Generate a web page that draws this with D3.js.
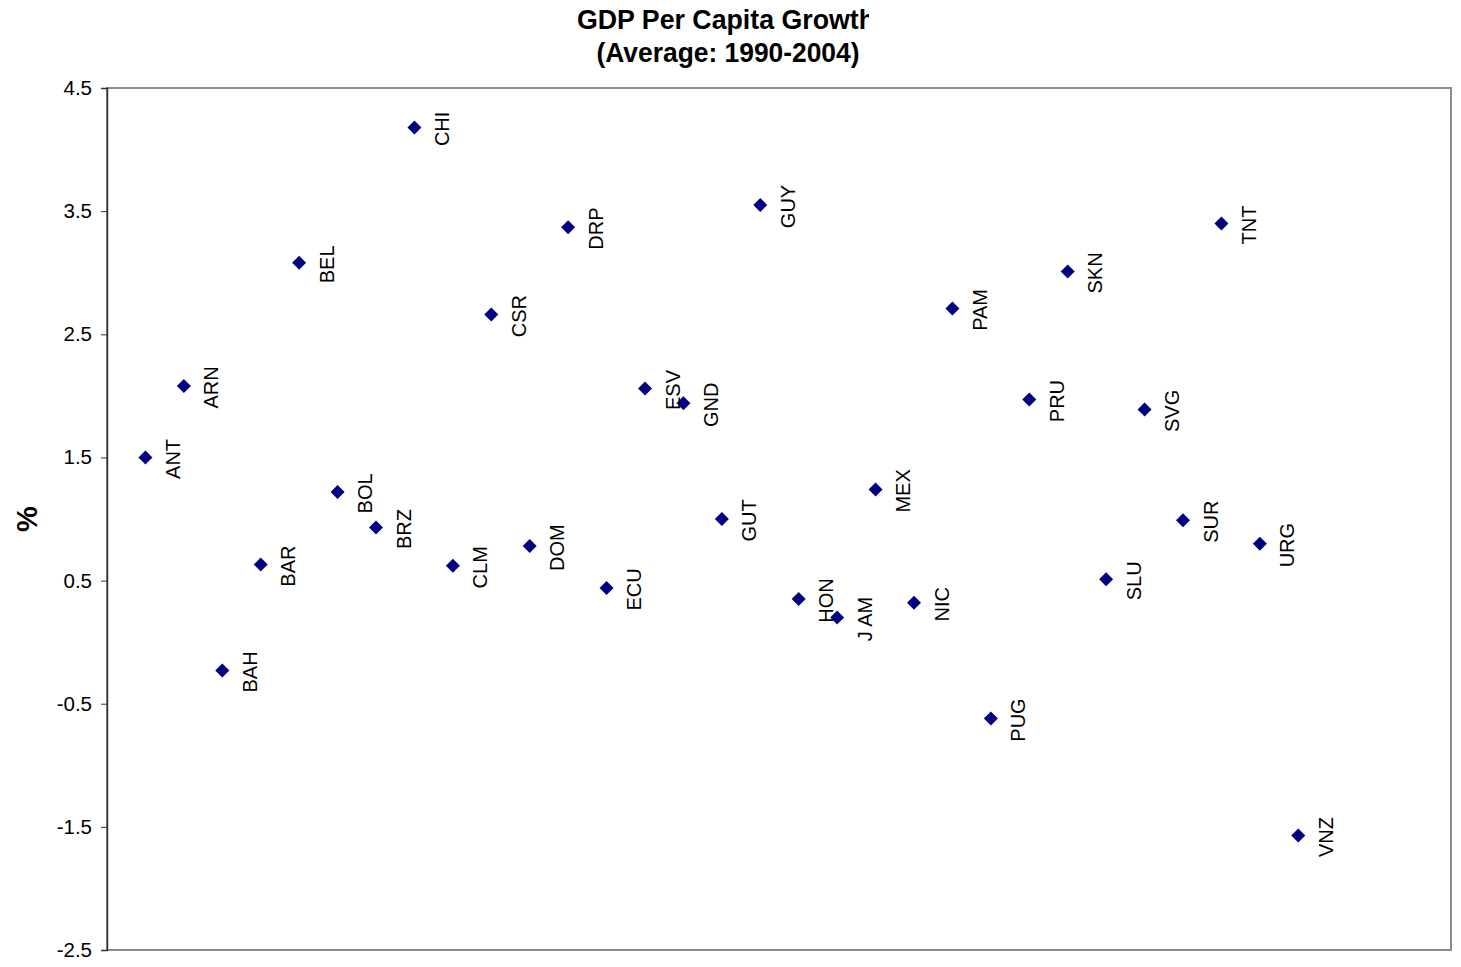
<!DOCTYPE html>
<html><head><meta charset="utf-8">
<script src="https://cdn.jsdelivr.net/npm/d3@7"></script>
<style>html,body{margin:0;padding:0;background:#fff;}</style>
</head><body>
<script>
const countries = ["ANT","ARN","BAH","BAR","BEL","BOL","BRZ","CHI","CLM","CSR","DOM","DRP","ECU","ESV","GND","GUT","GUY","HON","J AM","MEX","NIC","PAM","PUG","PRU","SKN","SLU","SVG","SUR","TNT","URG","VNZ"];
const growth = [1.50,2.08,-0.23,0.63,3.08,1.22,0.93,4.18,0.62,2.66,0.78,3.37,0.44,2.06,1.94,1.00,3.55,0.35,0.20,1.24,0.32,2.71,-0.62,1.97,3.01,0.51,1.89,0.99,3.40,0.80,-1.57];
const yTicks = [-2.5,-1.5,-0.5,0.5,1.5,2.5,3.5,4.5];
const titleLines = ["GDP Per Capita Growth","(Average: 1990-2004)"];
const yLabel = "%";

const W = 1461, H = 957;
const svg = d3.select("body").append("svg").attr("width", W).attr("height", H).style("display","block");
const m = {left:107, right:1452, top:88, bottom:950};
const x = d3.scaleLinear().domain([0,35]).range([m.left, m.right]);
const y = d3.scaleLinear().domain([-2.5,4.5]).range([m.bottom, m.top]);

// frame
svg.append("rect").attr("x", m.left).attr("y", m.top).attr("width", m.right-m.left-1).attr("height", m.bottom-m.top)
  .attr("fill","none").attr("stroke","#8c8c8c").attr("stroke-width",2);

// y axis
const ya = svg.append("g").attr("transform",`translate(${m.left},0)`)
  .call(d3.axisLeft(y).tickValues(yTicks).tickSize(6).tickPadding(9).tickFormat(d => String(d)));
ya.select(".domain").attr("stroke","#333").attr("stroke-width",1.5);
ya.selectAll(".tick line").attr("stroke","#333");
ya.selectAll("text").attr("font-family","'Liberation Sans',Arial,sans-serif")
  .attr("font-size",20.5).attr("fill","#000");

// title
svg.append("clipPath").attr("id","tclip").append("rect").attr("x",0).attr("y",9).attr("width",869).attr("height",40);
svg.append("text").attr("x",726).attr("y",29).attr("text-anchor","middle").attr("clip-path","url(#tclip)")
  .attr("font-family","'Liberation Sans',Arial,sans-serif").attr("font-weight","bold")
  .attr("font-size",27).attr("textLength",298).attr("lengthAdjust","spacingAndGlyphs").text(titleLines[0]);
svg.append("text").attr("x",728).attr("y",62).attr("text-anchor","middle")
  .attr("font-family","'Liberation Sans',Arial,sans-serif").attr("font-weight","bold")
  .attr("font-size",27).attr("textLength",263).attr("lengthAdjust","spacingAndGlyphs").text(titleLines[1]);

// y label
svg.append("text").attr("transform","translate(37,519) rotate(-90)").attr("text-anchor","middle")
  .attr("font-family","'Liberation Sans',Arial,sans-serif").attr("font-weight","bold").attr("font-size",29).text(yLabel);

// points
const data = countries.map((c,i)=>({c, i:i+1, v:growth[i]}));
const sym = d3.symbol().type(d3.symbolDiamond2).size(125);
svg.append("g").selectAll("path").data(data).join("path")
  .attr("d", sym).attr("transform", d=>`translate(${x(d.i)},${y(d.v)})`).attr("fill","#000080");

svg.append("g").selectAll("text").data(data).join("text")
  .attr("transform", d=>`translate(${x(d.i)+34.5},${y(d.v)+1.5}) rotate(-90)`)
  .attr("text-anchor","middle")
  .attr("font-family","'Liberation Sans',Arial,sans-serif").attr("font-size",20).attr("fill","#000")
  .text(d=>d.c);
</script>
</body></html>
